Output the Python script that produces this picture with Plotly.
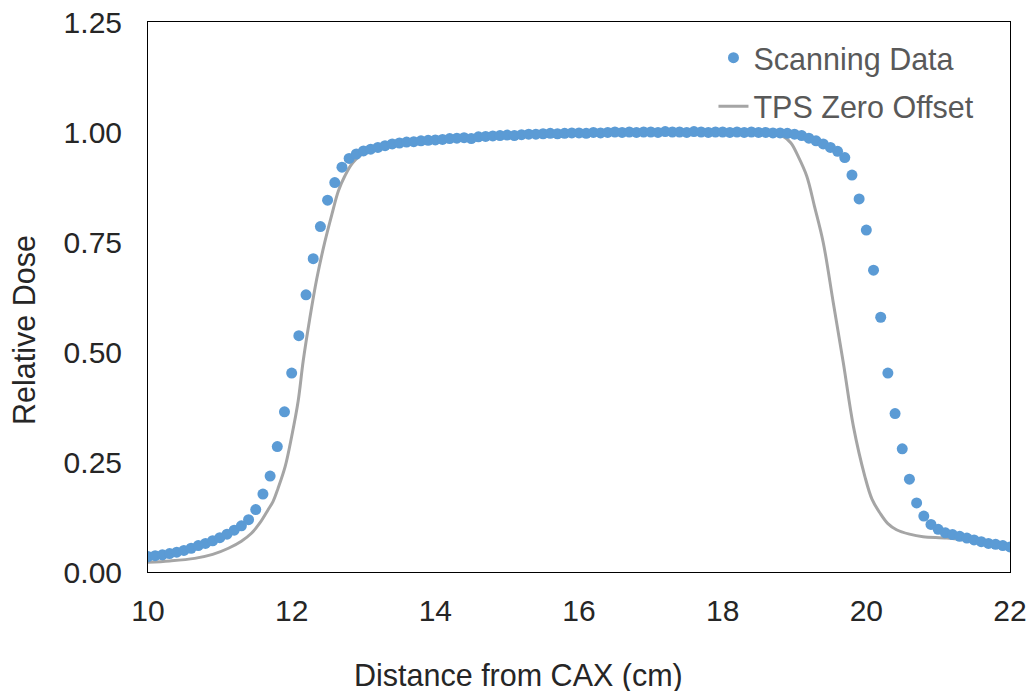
import plotly.graph_objects as go

# ---------------- data ----------------
scan_x = [10.0, 10.1, 10.2, 10.3, 10.4, 10.5, 10.6, 10.7, 10.8, 10.9,
          11.0, 11.1, 11.2, 11.3, 11.4, 11.5, 11.6, 11.7, 11.8, 11.9,
          12.0, 12.1, 12.2, 12.3, 12.4, 12.5, 12.6, 12.7, 12.8, 12.9,
          13.0, 13.1, 13.2, 13.3, 13.4, 13.5, 13.6, 13.7, 13.8, 13.9,
          14.0, 14.1, 14.2, 14.3, 14.4, 14.5, 14.6, 14.7, 14.8, 14.9,
          15.0, 15.1, 15.2, 15.3, 15.4, 15.5, 15.6, 15.7, 15.8, 15.9,
          16.0, 16.1, 16.2, 16.3, 16.4, 16.5, 16.6, 16.7, 16.8, 16.9,
          17.0, 17.1, 17.2, 17.3, 17.4, 17.5, 17.6, 17.7, 17.8, 17.9,
          18.0, 18.1, 18.2, 18.3, 18.4, 18.5, 18.6, 18.7, 18.8, 18.9,
          19.0, 19.1, 19.2, 19.3, 19.4, 19.5, 19.6, 19.7, 19.8, 19.9,
          20.0, 20.1, 20.2, 20.3, 20.4, 20.5, 20.6, 20.7, 20.8, 20.9,
          21.0, 21.1, 21.2, 21.3, 21.4, 21.5, 21.6, 21.7, 21.8, 21.9,
          22.0]
scan_y = [0.035, 0.037, 0.039, 0.042, 0.045, 0.049, 0.054, 0.060, 0.065, 0.071,
          0.078, 0.086, 0.095, 0.105, 0.119, 0.142, 0.177, 0.218, 0.285, 0.364,
          0.452, 0.537, 0.630, 0.712, 0.785, 0.845, 0.885, 0.920, 0.940, 0.950,
          0.957, 0.961, 0.965, 0.969, 0.973, 0.975, 0.977, 0.978, 0.980, 0.981,
          0.982, 0.983, 0.985, 0.986, 0.987, 0.985, 0.989, 0.990, 0.991, 0.992,
          0.993, 0.992, 0.994, 0.995, 0.995, 0.996, 0.997, 0.996, 0.997, 0.998,
          0.998, 0.997, 0.999, 0.998, 0.999, 1.000, 0.999, 1.000, 0.999, 1.000,
          1.000, 0.999, 1.001, 1.000, 1.000, 0.999, 1.001, 1.000, 0.999, 1.000,
          1.000, 0.999, 1.000, 0.999, 1.000, 0.999, 0.999, 0.998, 0.998, 0.997,
          0.995, 0.992, 0.986, 0.980, 0.973, 0.965, 0.956, 0.942, 0.902, 0.848,
          0.777, 0.686, 0.579, 0.452, 0.360, 0.280, 0.211, 0.157, 0.127, 0.108,
          0.097, 0.089, 0.085, 0.081, 0.077, 0.073, 0.069, 0.065, 0.063, 0.060,
          0.057]

tps_x = [10.0, 10.3, 10.65, 10.9, 11.12, 11.3, 11.44, 11.56, 11.67, 11.74,
         11.81, 11.91, 12.0, 12.09, 12.16, 12.25, 12.35, 12.46, 12.56, 12.65,
         12.74, 12.85, 13.0, 13.2, 13.5, 14.0, 15.0, 16.0, 17.0, 18.0,
         18.6, 18.84, 18.95, 19.05, 19.17, 19.28, 19.40, 19.54, 19.68, 19.82,
         19.98, 20.08, 20.19, 20.30, 20.42, 20.60, 20.79, 21.12, 21.5, 22.0]
tps_y = [0.022, 0.025, 0.031, 0.040, 0.054, 0.070, 0.088, 0.112, 0.141, 0.160,
         0.190, 0.240, 0.308, 0.388, 0.479, 0.574, 0.667, 0.749, 0.813, 0.866,
         0.900, 0.930, 0.952, 0.962, 0.972, 0.980, 0.990, 0.997, 0.999, 0.999,
         0.998, 0.990, 0.975, 0.945, 0.900, 0.830, 0.749, 0.612, 0.475, 0.331,
         0.217, 0.165, 0.134, 0.110, 0.096, 0.086, 0.080, 0.077, 0.070, 0.058]

y_ticks = [0.0, 0.25, 0.5, 0.75, 1.0, 1.25]
y_tick_labels = ["0.00", "0.25", "0.50", "0.75", "1.00", "1.25"]
x_ticks = [10, 12, 14, 16, 18, 20, 22]

FONT = "Liberation Sans, Arial, sans-serif"
W, H = 1031, 691
L, R, T, B = 148, 1010, 22, 572

fig = go.Figure()
fig.add_trace(go.Scatter(
    x=tps_x, y=tps_y, mode="lines", name="TPS Zero Offset",
    line=dict(color="#A5A5A5", width=3, shape="spline", smoothing=1.0),
    legendgroup="b", legendrank=2,
))
fig.add_trace(go.Scatter(
    x=scan_x, y=scan_y, mode="markers", name="Scanning Data",
    marker=dict(color="#5B9BD5", size=11, line=dict(width=0)),
    legendgroup="a", legendrank=1,
))

fig.update_layout(
    width=W, height=H,
    margin=dict(l=L, r=W - R, t=T, b=H - B, autoexpand=False),
    paper_bgcolor="white", plot_bgcolor="white",
    font=dict(family=FONT, size=30, color="#262626"),
    showlegend=True,
    legend=dict(
        x=0.656, y=0.983, xanchor="left", yanchor="top",
        bgcolor="rgba(0,0,0,0)", traceorder="grouped", tracegroupgap=6,
        font=dict(family=FONT, size=30.5, color="#595959"),
    ),
    xaxis=dict(
        range=[10, 22], tickvals=x_ticks, ticks="", showgrid=False,
        zeroline=False, showline=True, linecolor="black", linewidth=1,
        mirror=True, ticklabelstandoff=12, automargin=False,
        ticklabeloverflow="allow",
        tickfont=dict(family=FONT, size=30, color="#262626"),
    ),
    yaxis=dict(
        range=[0, 1.25], tickvals=y_ticks, ticktext=y_tick_labels, ticks="",
        showgrid=False, zeroline=False, showline=True, linecolor="black",
        linewidth=1, mirror=True, ticklabelstandoff=19, automargin=False,
        ticklabeloverflow="allow",
        tickfont=dict(family=FONT, size=30, color="#262626"),
    ),
    annotations=[
        dict(text="Distance from CAX (cm)", xref="paper", yref="paper",
             x=(518 - L) / (R - L), y=-(676 - B) / (B - T),
             xanchor="center", yanchor="middle", showarrow=False,
             font=dict(family=FONT, size=30.5, color="#262626")),
        dict(text="Relative Dose", xref="paper", yref="paper",
             x=-(L - 24) / (R - L), y=(B - 330) / (B - T),
             xanchor="center", yanchor="middle", showarrow=False, textangle=-90,
             font=dict(family=FONT, size=30.5, color="#262626")),
    ],
)

# remove the page's default body margin so the figure fills the window exactly
fig.write_html("out.html", config={"displayModeBar": False},
               post_script="document.body.style.margin='0';")
